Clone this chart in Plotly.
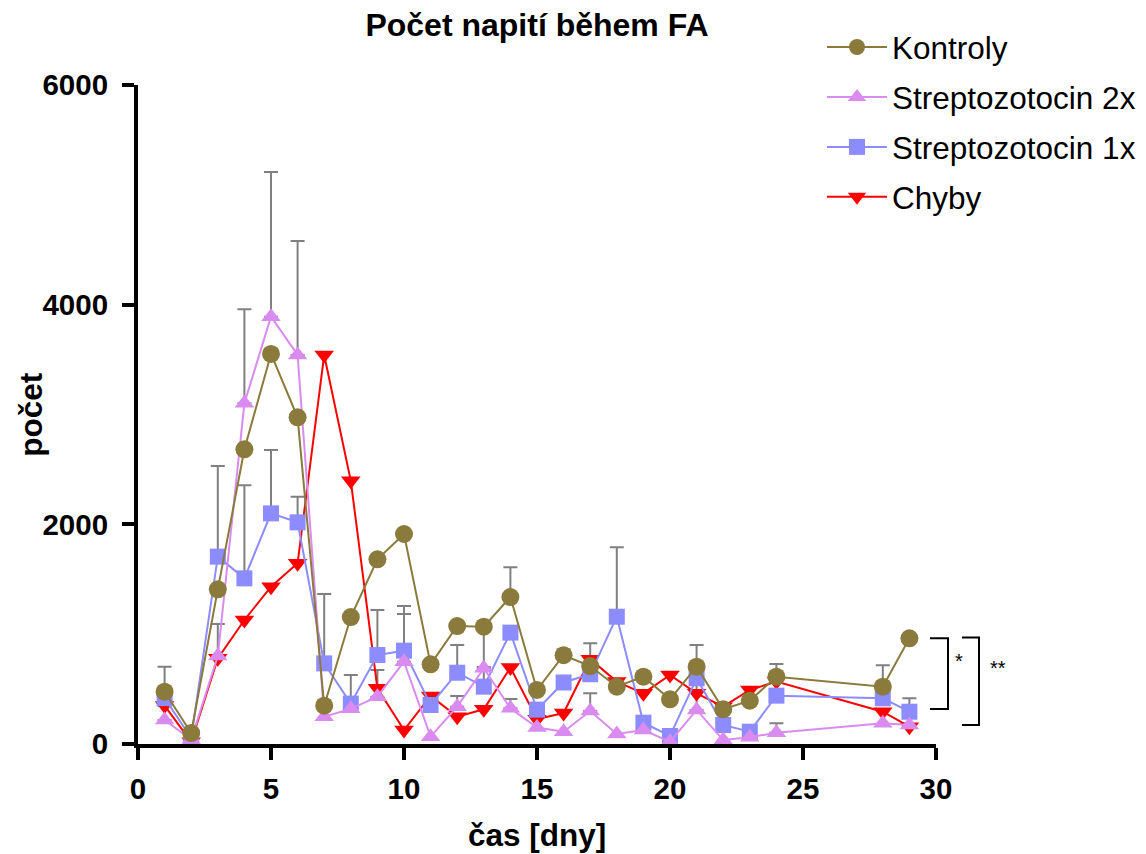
import plotly.graph_objects as go

# ---------------- data ----------------
days = [1, 2, 3, 4, 5, 6, 7, 8, 9, 10, 11, 12, 13, 14, 15, 16, 17, 18, 19, 20, 21, 22, 23, 24, 28, 29]

kontroly = [476, 100, 1408, 2683, 3551, 2974, 349, 1156, 1681, 1912, 725, 1074, 1068, 1338,
            492, 808, 710, 522, 613, 407, 704, 316, 394, 613, 522, 962]
kontroly_top = [704, None, None, None, None, None, None, None, None, None, None, None, None, 1609,
                None, 862, 917, None, None, None, 901, None, None, 728, 716, None]

strep2x = [218, 40, 801, 3102, 3891, 3542, 249, 320, 431, 749, 67, 340, 689, 325,
           150, 112, 300, 91, 127, 21, 310, 36, 61, 103, 188, 173]
strep2x_top = [346, None, 1092, 3958, 5208, 4580, None, None, 674, 1184, None, 437, 1030, 410,
               None, None, 461, None, None, None, 555, None, None, 188, None, None]

strep1x = [418, 55, 1706, 1508, 2100, 2018, 734, 368, 810, 850, 355, 649, 522, 1014,
           313, 560, 635, 1159, 194, 73, 598, 173, 112, 440, 416, 294]
strep1x_top = [None, None, 2531, 2355, 2677, 2252, 1366, 628, 1220, 1256, 464, 901, 701, None,
               None, None, None, 1791, None, None, None, 237, None, None, None, 416]

chyby = [350, 20, 780, 1129, 1432, 1645, 3542, 2396, 507, 127, 437, 249, 316, 697,
         226, 282, 772, 568, 461, 628, 461, 340, 492, 568, 294, 158]

x_ticks = [0, 5, 10, 15, 20, 25, 30]
y_ticks = [0, 2000, 4000, 6000]

# significance brackets (data values of ends)
sig1 = {"top": 962, "bottom": 318, "label": "*"}
sig2 = {"top": 970, "bottom": 173, "label": "**"}

# ---------------- style ----------------
FONT = "Liberation Sans, Arial, Helvetica, sans-serif"
C_K = "#8A7A3B"
C_S2 = "#DA8BF0"
C_S1 = "#8C8CFF"
C_CH = "#FF0000"
C_ERR = "#808080"

fig = go.Figure()

# error bars (upper only), drawn underneath
for vals, tops in [(strep1x, strep1x_top), (strep2x, strep2x_top), (kontroly, kontroly_top)]:
    ex = [d for d, t in zip(days, tops) if t is not None]
    ey = [v for v, t in zip(vals, tops) if t is not None]
    ee = [t - v for v, t in zip(vals, tops) if t is not None]
    fig.add_trace(go.Scatter(
        x=ex, y=ey, mode="markers", marker=dict(size=1, opacity=0),
        showlegend=False, hoverinfo="skip",
        error_y=dict(type="data", symmetric=False, array=ee, arrayminus=[0] * len(ee),
                     color=C_ERR, thickness=2, width=7),
    ))

series = [
    ("Chyby", chyby, C_CH, "triangle-down", 17, 4),
    ("Streptozotocin 1x", strep1x, C_S1, "square", 16, 3),
    ("Streptozotocin 2x", strep2x, C_S2, "triangle-up", 17, 2),
    ("Kontroly", kontroly, C_K, "circle", 18, 1),
]
for name, vals, col, sym, sz, rank in series:
    fig.add_trace(go.Scatter(
        x=days, y=vals, mode="lines+markers", name=name, legendgroup=name, legendrank=rank,
        line=dict(color=col, width=2),
        marker=dict(color=col, symbol=sym, size=sz, line=dict(width=0)),
    ))

shapes = []
annotations = []
for s, x0, x1, tx in [(sig1, 930, 948, 953), (sig2, 962, 979, 988)]:
    dx0 = (x0 - 138) / 798
    dx1 = (x1 - 138) / 798
    yt = s["top"] / 6000
    yb = s["bottom"] / 6000
    shapes.append(dict(type="path", xref="x domain", yref="y domain",
                       path=f"M {dx0} {yt} L {dx1} {yt} L {dx1} {yb} L {dx0} {yb}",
                       line=dict(color="black", width=2)))
    annotations.append(dict(x=(tx - 138) / 798, y=(yt + yb) / 2, xref="x domain", yref="y domain",
                            text=s["label"], showarrow=False, xanchor="left",
                            font=dict(family=FONT, size=20, color="black")))

annotations.append(dict(x=0.5, y=-0.138, xref="paper", yref="paper", text="<b>čas [dny]</b>",
                        showarrow=False, yanchor="middle",
                        font=dict(family=FONT, size=31.5, color="black")))
annotations.append(dict(x=-0.135, y=0.5, xref="paper", yref="paper", text="<b>počet</b>",
                        showarrow=False, textangle=-90, xanchor="center", yanchor="middle",
                        font=dict(family=FONT, size=31.5, color="black")))

fig.update_layout(
    width=1146, height=854,
    margin=dict(l=138, r=210, t=85, b=110, autoexpand=False),
    paper_bgcolor="white", plot_bgcolor="white",
    title=dict(text="<b>Počet napití během FA</b>", x=0.5, xref="paper", xanchor="center",
               y=1 - 25 / 854, yref="container", yanchor="middle",
               font=dict(family=FONT, size=32, color="black")),
    xaxis=dict(range=[0, 30], tickvals=x_ticks, ticktext=[str(t) for t in x_ticks],
               showgrid=False, zeroline=False, showline=True, linecolor="black", linewidth=4,
               ticks="outside", ticklen=12, tickwidth=4, tickcolor="black",
               tickfont=dict(family=FONT, size=29.5, color="black", weight="bold"),
               ticklabelstandoff=4),
    yaxis=dict(range=[0, 6000], tickvals=y_ticks, ticktext=[str(t) for t in y_ticks],
               showgrid=False, zeroline=False, showline=True, linecolor="black", linewidth=4,
               ticks="outside", ticklen=12, tickwidth=4, tickcolor="black",
               tickfont=dict(family=FONT, size=29.5, color="black", weight="bold"),
               ticklabelstandoff=8),
    legend=dict(x=822 / 1146, xref="container", xanchor="left",
                y=1 - 20 / 854, yref="container", yanchor="top",
                traceorder="grouped", tracegroupgap=6,
                font=dict(family=FONT, size=31.5, color="black"),
                bgcolor="rgba(0,0,0,0)", itemwidth=60),
    shapes=shapes,
    annotations=annotations,
    showlegend=True,
)

fig.write_html("out.html")
